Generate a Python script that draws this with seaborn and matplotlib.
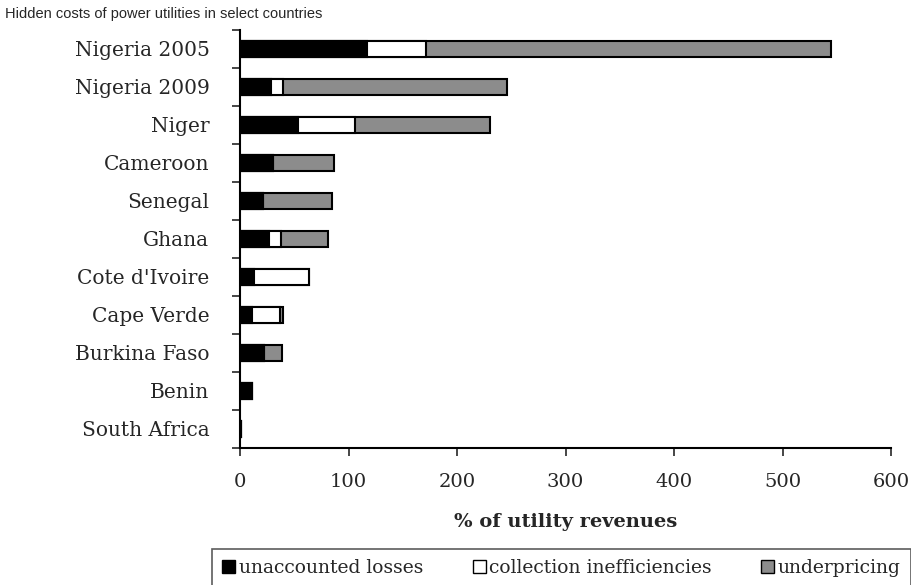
import pandas as pd
import seaborn as sns
import matplotlib.pyplot as plt
from matplotlib.patches import Patch

# values (% of utility revenues)
paises = ['Nigeria 2005', 'Nigeria 2009', 'Niger', 'Cameroon', 'Senegal', 'Ghana',
          "Cote d'Ivoire", 'Cape Verde', 'Burkina Faso', 'Benin', 'South Africa']
perdas = [117, 29, 53, 30, 21, 27, 13, 11, 22, 11, 1]
cobranca = [54, 11, 53, 0, 0, 11, 51, 26, 0, 0, 0]
subpreco = [374, 206, 124, 57, 64, 43, 0, 3, 17, 0, 0]

dados = pd.DataFrame({'pais': paises, 'perdas': perdas,
                      'cobranca': cobranca, 'subpreco': subpreco})
dados['ate_cobranca'] = dados['perdas'] + dados['cobranca']
dados['total'] = dados['ate_cobranca'] + dados['subpreco']

sns.set_style('white')
plt.rcParams['font.family'] = ['DejaVu Serif', 'Liberation Serif']

fig = plt.figure(figsize=(9.11, 5.85), dpi=100)
ax = fig.add_axes([240 / 911, 1 - 448 / 585, (891 - 240) / 911, (448 - 30) / 585])

# stacked bars: draw cumulative totals from largest to smallest
for col, cor in [('total', '#8c8c8c'), ('ate_cobranca', 'white'), ('perdas', 'black')]:
    sns.barplot(data=dados, x=col, y='pais', order=paises, color=cor,
                edgecolor='black', linewidth=1.5, width=0.41, saturation=1, ax=ax)

ax.set_xlim(0, 600)
ax.set_ylim(10.5, -0.5)
ax.set_xticks(range(0, 601, 100))
ax.set_ylabel('')
ax.set_xlabel('% of utility revenues', fontsize=14, fontweight='bold', labelpad=16)

# excel style: ticks between categories
ax.set_yticks([i - 0.5 for i in range(12)], minor=True)
ax.tick_params(axis='y', which='major', length=0, labelsize=14.5, pad=22)
ax.tick_params(axis='y', which='minor', length=6, width=1.2, direction='out', left=True)
ax.tick_params(axis='x', length=6, width=1.2, direction='out', bottom=True, labelsize=14, pad=12)

for lado in ['top', 'right']:
    ax.spines[lado].set_visible(False)
for lado in ['left', 'bottom']:
    ax.spines[lado].set_linewidth(1.5)
    ax.spines[lado].set_color('black')

fig.text(5 / 911, 1 - 14 / 585, 'Hidden costs of power utilities in select countries',
         fontsize=10.5, family=['Liberation Sans', 'DejaVu Sans'], va='center')

itens = [Patch(facecolor='black', edgecolor='black', label='unaccounted losses'),
         Patch(facecolor='white', edgecolor='black', label='collection inefficiencies'),
         Patch(facecolor='#8c8c8c', edgecolor='black', label='underpricing')]
leg = fig.legend(handles=itens, loc='lower left', mode='expand',
                 bbox_to_anchor=(212 / 911, -0.004, (911 - 212) / 911, 40 / 585),
                 ncol=3, fontsize=13.5, frameon=True, fancybox=False, borderpad=0.55,
                 borderaxespad=0.0, handlelength=0.7, handleheight=0.7,
                 handletextpad=0.2, columnspacing=1.0)
leg.get_frame().set_edgecolor('#333333')
leg.get_frame().set_linewidth(1.2)

plt.savefig('out.png', dpi=100)
